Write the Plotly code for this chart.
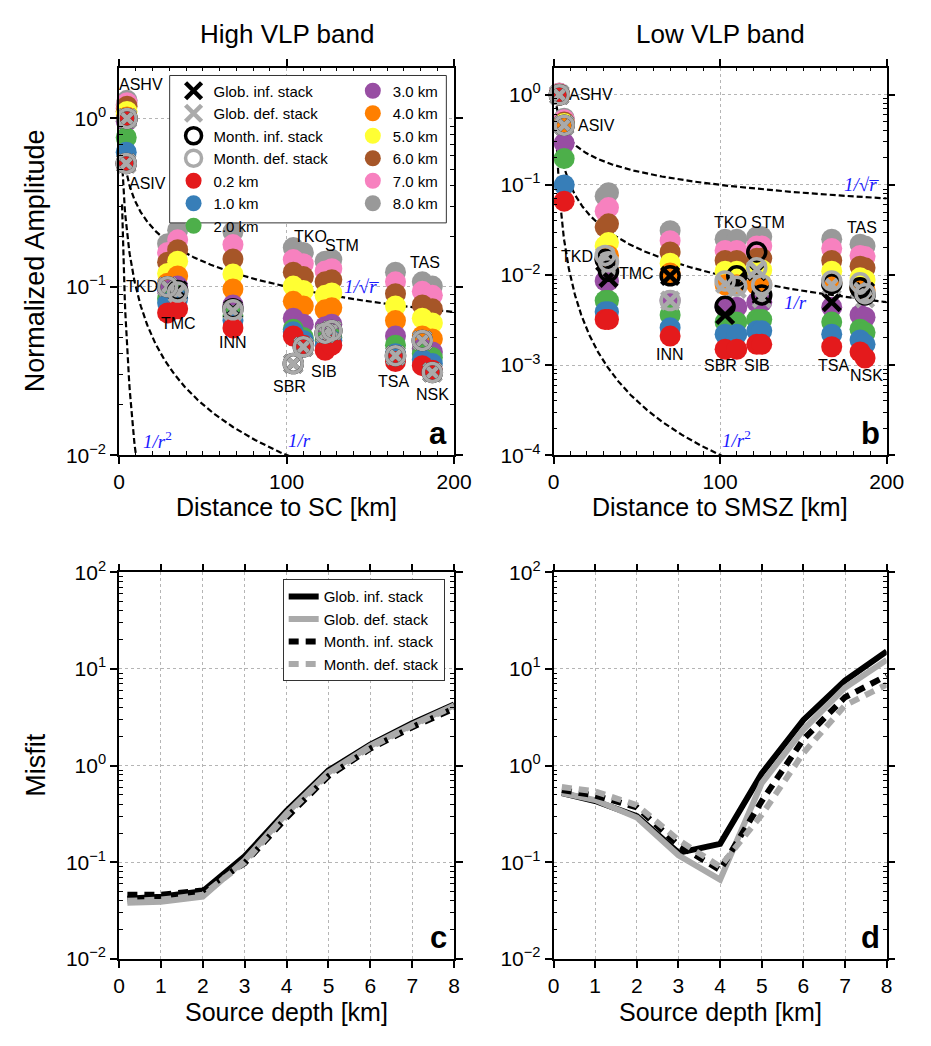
import numpy as np
import plotly.graph_objects as go

# ---------------- data ----------------
depth_names = ["0.2 km", "1.0 km", "2.0 km", "3.0 km", "4.0 km", "5.0 km", "6.0 km", "7.0 km", "8.0 km"]
depth_colors = ["#e41a1c", "#377eb8", "#4daf4a", "#984ea3", "#ff7f00",
                "#ffff33", "#a65628", "#f781bf", "#999999"]

# Panel a (High VLP band, distance to SC)
sta_a = ["ASHV", "ASIV", "TKD", "TMC", "INN", "SBR", "TKO", "SIB", "STM", "TSA", "TAS", "NSK"]
dist_a = [4.8, 4.3, 29, 35, 68, 104, 110, 123, 127, 165, 181, 187]
amp_a = [
    [1.00, 1.00, 1.00, 1.00, 1.02, 1.10, 1.18, 1.24, 1.28],   # ASHV
    [0.54, 0.63, 0.77, 0.96, 1.00, 1.05, 1.10, 1.15, 1.20],   # ASIV
    [0.070, 0.080, 0.085, 0.095, 0.105, 0.120, 0.140, 0.160, 0.180],  # TKD
    [0.074, 0.085, 0.090, 0.101, 0.116, 0.142, 0.166, 0.190, 0.217],  # TMC
    [0.057, 0.063, 0.067, 0.078, 0.097, 0.119, 0.146, 0.178, 0.212],  # INN
    [0.051, 0.054, 0.056, 0.065, 0.082, 0.101, 0.122, 0.145, 0.171],  # SBR
    [0.045, 0.048, 0.050, 0.060, 0.077, 0.095, 0.115, 0.137, 0.160],  # TKO
    [0.042, 0.045, 0.048, 0.058, 0.073, 0.089, 0.107, 0.124, 0.142],  # SIB
    [0.045, 0.048, 0.050, 0.060, 0.075, 0.092, 0.110, 0.128, 0.145],  # STM
    [0.036, 0.040, 0.045, 0.051, 0.063, 0.077, 0.091, 0.107, 0.122],  # TSA
    [0.034, 0.037, 0.040, 0.043, 0.051, 0.065, 0.078, 0.094, 0.107],  # TAS
    [0.032, 0.035, 0.038, 0.041, 0.049, 0.061, 0.074, 0.089, 0.101],  # NSK
]
glob_inf_a = [1.0, 0.54, 0.100, 0.095, 0.073, 0.035, 0.044, 0.053, 0.055, 0.039, 0.048, 0.031]
glob_def_a = [1.0, 0.54, 0.100, 0.092, 0.072, 0.035, 0.044, 0.053, 0.055, 0.039, 0.048, 0.031]
month_inf_a = [1.0, 0.54, 0.100, 0.095, 0.074, 0.035, 0.044, 0.053, 0.055, 0.039, 0.048, 0.031]
month_def_a = [1.0, 0.54, 0.100, 0.093, 0.073, 0.035, 0.044, 0.053, 0.055, 0.039, 0.048, 0.031]

# Panel b (Low VLP band, distance to SMSZ)
sta_b = ["ASHV", "ASIV", "TKD", "TMC", "INN", "SBR", "TKO", "STM", "SIB", "TSA", "TAS", "NSK"]
dist_b = [3.5, 6.4, 31, 33, 70, 103, 110, 122, 125, 167, 184, 187]
amp_b = [
    [1.00, 1.00, 1.00, 1.00, 1.00, 1.00, 1.02, 1.04, 1.05],   # ASHV
    [0.066, 0.100, 0.196, 0.290, 0.460, 0.480, 0.500, 0.530, 0.550],  # ASIV
    [0.0032, 0.0039, 0.0052, 0.0086, 0.0150, 0.0210, 0.034, 0.051, 0.075],  # TKD
    [0.0032, 0.0039, 0.0052, 0.0086, 0.0165, 0.0230, 0.037, 0.056, 0.082],  # TMC
    [0.0021, 0.0026, 0.0036, 0.0052, 0.0105, 0.0135, 0.018, 0.024, 0.031],  # INN
    [0.0015, 0.0022, 0.0030, 0.0044, 0.0078, 0.0110, 0.0145, 0.0187, 0.025],  # SBR
    [0.0015, 0.0022, 0.0030, 0.0044, 0.0078, 0.0110, 0.0145, 0.0187, 0.025],  # TKO
    [0.0017, 0.0024, 0.0032, 0.0050, 0.0078, 0.0114, 0.0153, 0.0210, 0.0265],  # STM
    [0.0017, 0.0024, 0.0032, 0.0050, 0.0078, 0.0114, 0.0153, 0.0210, 0.0265],  # SIB
    [0.0016, 0.0022, 0.0030, 0.0044, 0.0082, 0.0110, 0.0145, 0.0197, 0.025],  # TSA
    [0.0014, 0.0019, 0.0025, 0.0036, 0.0072, 0.0093, 0.0125, 0.0165, 0.022],  # TAS
    [0.0012, 0.0017, 0.0023, 0.0034, 0.0068, 0.0088, 0.0120, 0.0160, 0.021],  # NSK
]
glob_inf_b = [1.0, 0.46, 0.014, 0.0093, 0.0098, 0.0036, 0.0085, 0.011, 0.0060, 0.0050, 0.0070, 0.0065]
glob_def_b = [1.0, 0.46, 0.016, 0.0125, 0.0052, 0.0080, 0.0070, 0.0115, 0.0055, 0.0078, 0.0070, 0.0055]
month_inf_b = [1.0, 0.46, 0.015, 0.0110, 0.0098, 0.0045, 0.0098, 0.018, 0.0060, 0.0080, 0.0072, 0.0060]
month_def_b = [1.0, 0.46, 0.0165, 0.0140, 0.0052, 0.0086, 0.0075, 0.012, 0.0078, 0.0086, 0.0082, 0.0062]

# Panels c, d (misfit vs source depth)
src_depth = [0.2, 1, 2, 3, 4, 5, 6, 7, 8]
mis_c_glob_inf = [0.042, 0.044, 0.050, 0.115, 0.34, 0.89, 1.65, 2.75, 4.3]
mis_c_glob_def = [0.038, 0.039, 0.044, 0.105, 0.32, 0.85, 1.60, 2.65, 4.2]
mis_c_month_inf = [0.046, 0.046, 0.051, 0.098, 0.29, 0.78, 1.50, 2.50, 3.9]
mis_c_month_def = [0.040, 0.041, 0.046, 0.100, 0.31, 0.82, 1.55, 2.60, 4.1]
mis_d_glob_inf = [0.52, 0.43, 0.30, 0.125, 0.155, 0.83, 2.97, 7.6, 15.2]
mis_d_glob_def = [0.52, 0.44, 0.29, 0.118, 0.066, 0.66, 2.36, 6.4, 12.4]
mis_d_month_inf = [0.56, 0.49, 0.37, 0.150, 0.083, 0.43, 1.87, 5.1, 8.5]
mis_d_month_def = [0.60, 0.54, 0.39, 0.170, 0.090, 0.31, 1.35, 4.2, 6.9]

stack_names = ["Glob. inf. stack", "Glob. def. stack", "Month. inf. stack", "Month. def. stack"]

# ---------------- layout geometry ----------------
W, H = 931, 1046
def px(x):
    return x / W
def py(y):
    return 1 - y / H

dom_x_left = [px(116), px(460)]
dom_x_right = [px(562), px(904)]
dom_y_top = [py(452), py(55)]
dom_y_bot = [py(968), py(572)]

FONT = "Liberation Sans, Arial, sans-serif"
fig = go.Figure()

def sup(e):
    return "10<sup>" + (("\u2212" + str(-e)) if e < 0 else str(e)) + "</sup>"

def minor_log(lo, hi):
    v = []
    for e in range(lo, hi + 1):
        for k in range(2, 10):
            v.append(k * 10.0 ** e)
    return v

def panel_points(xa, ya, dist, amp, gi, gd, mi, md, show):
    amp = np.array(amp)
    for j in range(len(depth_names) - 1, -1, -1):
        fig.add_trace(go.Scatter(
            x=dist, y=amp[:, j], mode="markers", xaxis=xa, yaxis=ya,
            marker=dict(size=21, color=depth_colors[j], line=dict(width=0)),
            name=depth_names[j], showlegend=show, cliponaxis=False,
            legend="legend" if j < 3 else "legend2",
            legendrank=5 + j if j < 3 else j))
    specs = [(gi, "x-thin", "black", 17, 4.5), (gd, "x-thin", "#aaaaaa", 17, 4.5),
             (mi, "circle-open", "black", 18, 3.5), (md, "circle-open", "#aaaaaa", 18, 3.5)]
    for k, (vals, sym, col, sz, lw) in enumerate(specs):
        fig.add_trace(go.Scatter(
            x=dist, y=vals, mode="markers", xaxis=xa, yaxis=ya,
            marker=dict(symbol=sym, size=sz, color=col, line=dict(width=lw, color=col)),
            name=stack_names[k], showlegend=show, cliponaxis=False,
            legend="legend", legendrank=1 + k))

def curves(xa, ya, r0):
    for p in [0.5, 1.0, 2.0]:
        r = np.linspace(r0, 200, 600)
        fig.add_trace(go.Scatter(
            x=r, y=1.0 / r ** p, mode="lines", xaxis=xa, yaxis=ya,
            line=dict(color="black", width=2.2, dash="6px,3px"),
            showlegend=False, hoverinfo="skip"))

curves("x", "y", 1.8)
curves("x2", "y2", 1.8)
panel_points("x", "y", dist_a, amp_a, glob_inf_a, glob_def_a, month_inf_a, month_def_a, True)
panel_points("x2", "y2", dist_b, amp_b, glob_inf_b, glob_def_b, month_inf_b, month_def_b, False)

def misfit(xa, ya, gi, gd, mi, md, show):
    specs = [(gi, "black", "solid"), (gd, "#aaaaaa", "solid"),
             (mi, "black", "10px,7px"), (md, "#aaaaaa", "10px,7px")]
    for k, (vals, col, dash) in enumerate(specs):
        fig.add_trace(go.Scatter(
            x=src_depth, y=vals, mode="lines", xaxis=xa, yaxis=ya,
            line=dict(color=col, width=6, dash=dash),
            name=stack_names[k], showlegend=show, legend="legend3"))

misfit("x3", "y3", mis_c_glob_inf, mis_c_glob_def, mis_c_month_inf, mis_c_month_def, True)
misfit("x4", "y4", mis_d_glob_inf, mis_d_glob_def, mis_d_month_inf, mis_d_month_def, False)

# ---------------- axes ----------------
common = dict(showline=True, linecolor="black", linewidth=1.5, mirror="allticks",
              ticks="outside", ticklen=7, tickwidth=1.5, tickcolor="black",
              showgrid=True, gridcolor="#b5b5b5", griddash="dot", gridwidth=1,
              zeroline=False, tickfont=dict(family=FONT, size=21, color="black"))

dist_minor = dict(tickvals=[v for v in range(10, 200, 10) if v != 100], ticks="inside",
                  ticklen=4, tickwidth=1.2, tickcolor="black", showgrid=False)

def ymin(lo, hi):
    return dict(tickvals=minor_log(lo, hi), ticks="inside", ticklen=4, tickwidth=1.2,
                tickcolor="black", showgrid=False)

fig.update_layout(
    xaxis=dict(domain=dom_x_left, anchor="y", range=[0, 200], tickvals=[0, 100, 200],
               minor=dist_minor, **common),
    yaxis=dict(domain=dom_y_top, anchor="x", type="log", range=[-2, np.log10(2)],
               tickvals=[0.01, 0.1, 1], ticktext=[sup(-2), sup(-1), sup(0)],
               minor=ymin(-2, 0), **common),
    xaxis2=dict(domain=dom_x_right, anchor="y2", range=[0, 200], tickvals=[0, 100, 200],
                minor=dist_minor, **common),
    yaxis2=dict(domain=dom_y_top, anchor="x2", type="log", range=[-4, np.log10(2)],
                tickvals=[1e-4, 1e-3, 1e-2, 0.1, 1],
                ticktext=[sup(-4), sup(-3), sup(-2), sup(-1), sup(0)],
                minor=ymin(-4, 0), **common),
    xaxis3=dict(domain=dom_x_left, anchor="y3", range=[0, 8], tickvals=list(range(9)), **common),
    yaxis3=dict(domain=dom_y_bot, anchor="x3", type="log", range=[-2, 2],
                tickvals=[0.01, 0.1, 1, 10, 100],
                ticktext=[sup(-2), sup(-1), sup(0), sup(1), sup(2)],
                minor=ymin(-2, 1), **common),
    xaxis4=dict(domain=dom_x_right, anchor="y4", range=[0, 8], tickvals=list(range(9)), **common),
    yaxis4=dict(domain=dom_y_bot, anchor="x4", type="log", range=[-2, 2],
                tickvals=[0.01, 0.1, 1, 10, 100],
                ticktext=[sup(-2), sup(-1), sup(0), sup(1), sup(2)],
                minor=ymin(-2, 1), **common),
)

leg_common = dict(bgcolor="rgba(0,0,0,0)", borderwidth=0, xanchor="left", yanchor="top",
                  font=dict(family=FONT, size=15, color="black"), tracegroupgap=0,
                  itemsizing="trace", traceorder="normal")
fig.update_layout(
    width=W, height=H, margin=dict(l=0, r=0, t=0, b=0),
    plot_bgcolor="white", paper_bgcolor="white",
    legend=dict(x=px(172), y=py(62), **leg_common),
    legend2=dict(x=px(356), y=py(62), **leg_common),
    legend3=dict(x=px(284), y=py(579), xanchor="left", yanchor="top", bgcolor="white",
                 bordercolor="#333333", borderwidth=1, tracegroupgap=0, traceorder="normal",
                 font=dict(family=FONT, size=15, color="black")),
    showlegend=True,
)

# legend frame for panel a
fig.add_shape(type="rect", xref="paper", yref="paper", x0=px(168), x1=px(452),
              y0=py(214), y1=py(63), line=dict(color="#333333", width=1),
              fillcolor="white", layer="above")

# ---------------- annotations ----------------
ann = []
def A(text, x, y, xref, yref, size=15, **kw):
    d = dict(text=text, x=x, y=y, xref=xref, yref=yref, showarrow=False,
             xanchor=kw.pop("xanchor", "center"), yanchor=kw.pop("yanchor", "middle"),
             font=dict(family=kw.pop("family", FONT), size=size, color=kw.pop("color", "black")))
    d.update(kw)
    ann.append(d)

# station labels (data coords)
lab_a = {"ASHV": (13.4, 1.59), "ASIV": (17, 0.41), "TKD": (14, 0.10), "TMC": (35.5, 0.0607),
         "INN": (68, 0.0466), "SBR": (102, 0.0256), "TKO": (114.5, 0.20), "STM": (133, 0.176),
         "SIB": (122.6, 0.0313), "TSA": (164, 0.0273), "TAS": (182.5, 0.139), "NSK": (187, 0.023)}
lab_b = {"ASHV": (22.8, 1.0), "ASIV": (25.7, 0.46), "TKD": (14, 0.0161), "TMC": (49.7, 0.0105),
         "INN": (70, 0.00132), "SBR": (100, 0.00098), "TKO": (106, 0.0386), "STM": (128.5, 0.0386),
         "SIB": (122, 0.00098), "TSA": (168, 0.00098), "TAS": (185, 0.034), "NSK": (188, 0.00076)}
for s in sta_a:
    A(s, lab_a[s][0], np.log10(lab_a[s][1]), "x", "y", size=16)
for s in sta_b:
    A(s, lab_b[s][0], np.log10(lab_b[s][1]), "x2", "y2", size=16)

SERIF = "Liberation Serif, Times New Roman, serif"
blue = "#1a1aff"
A("<i>1/\u221ar\u0305</i>", 145, np.log10(0.1), "x", "y", size=19, family=SERIF, color=blue)
A("<i>1/r</i><sup>2</sup>", 23, np.log10(0.0123), "x", "y", size=19, family=SERIF, color=blue)
A("<i>1/r</i>", 108, np.log10(0.0123), "x", "y", size=19, family=SERIF, color=blue)
A("<i>1/\u221ar\u0305</i>", 185, np.log10(0.1), "x2", "y2", size=19, family=SERIF, color=blue)
A("<i>1/r</i>", 145, np.log10(0.005), "x2", "y2", size=19, family=SERIF, color=blue)
A("<i>1/r</i><sup>2</sup>", 110, np.log10(1.5e-4), "x2", "y2", size=19, family=SERIF, color=blue)

# panel letters
for lt, xr, yr in [("a", "x domain", "y domain"), ("b", "x2 domain", "y2 domain"),
                   ("c", "x3 domain", "y3 domain"), ("d", "x4 domain", "y4 domain")]:
    A("<b>" + lt + "</b>", 0.985, 0.005, xr, yr, size=31, xanchor="right", yanchor="bottom")

# titles and axis labels
A("High VLP band", px(288), py(20), "paper", "paper", size=26)
A("Low VLP band", px(733), py(20), "paper", "paper", size=26)
A("Distance to SC [km]", px(288), py(505), "paper", "paper", size=25)
A("Distance to SMSZ [km]", px(733), py(505), "paper", "paper", size=25)
A("Source depth [km]", px(288), py(1022), "paper", "paper", size=25)
A("Source depth [km]", px(733), py(1022), "paper", "paper", size=25)
A("Normalized Amplitude", px(30), py(253), "paper", "paper", size=27, textangle=-90)
A("Misfit", px(30), py(770), "paper", "paper", size=27, textangle=-90)

fig.update_layout(annotations=ann)
fig.write_html("out.html")
